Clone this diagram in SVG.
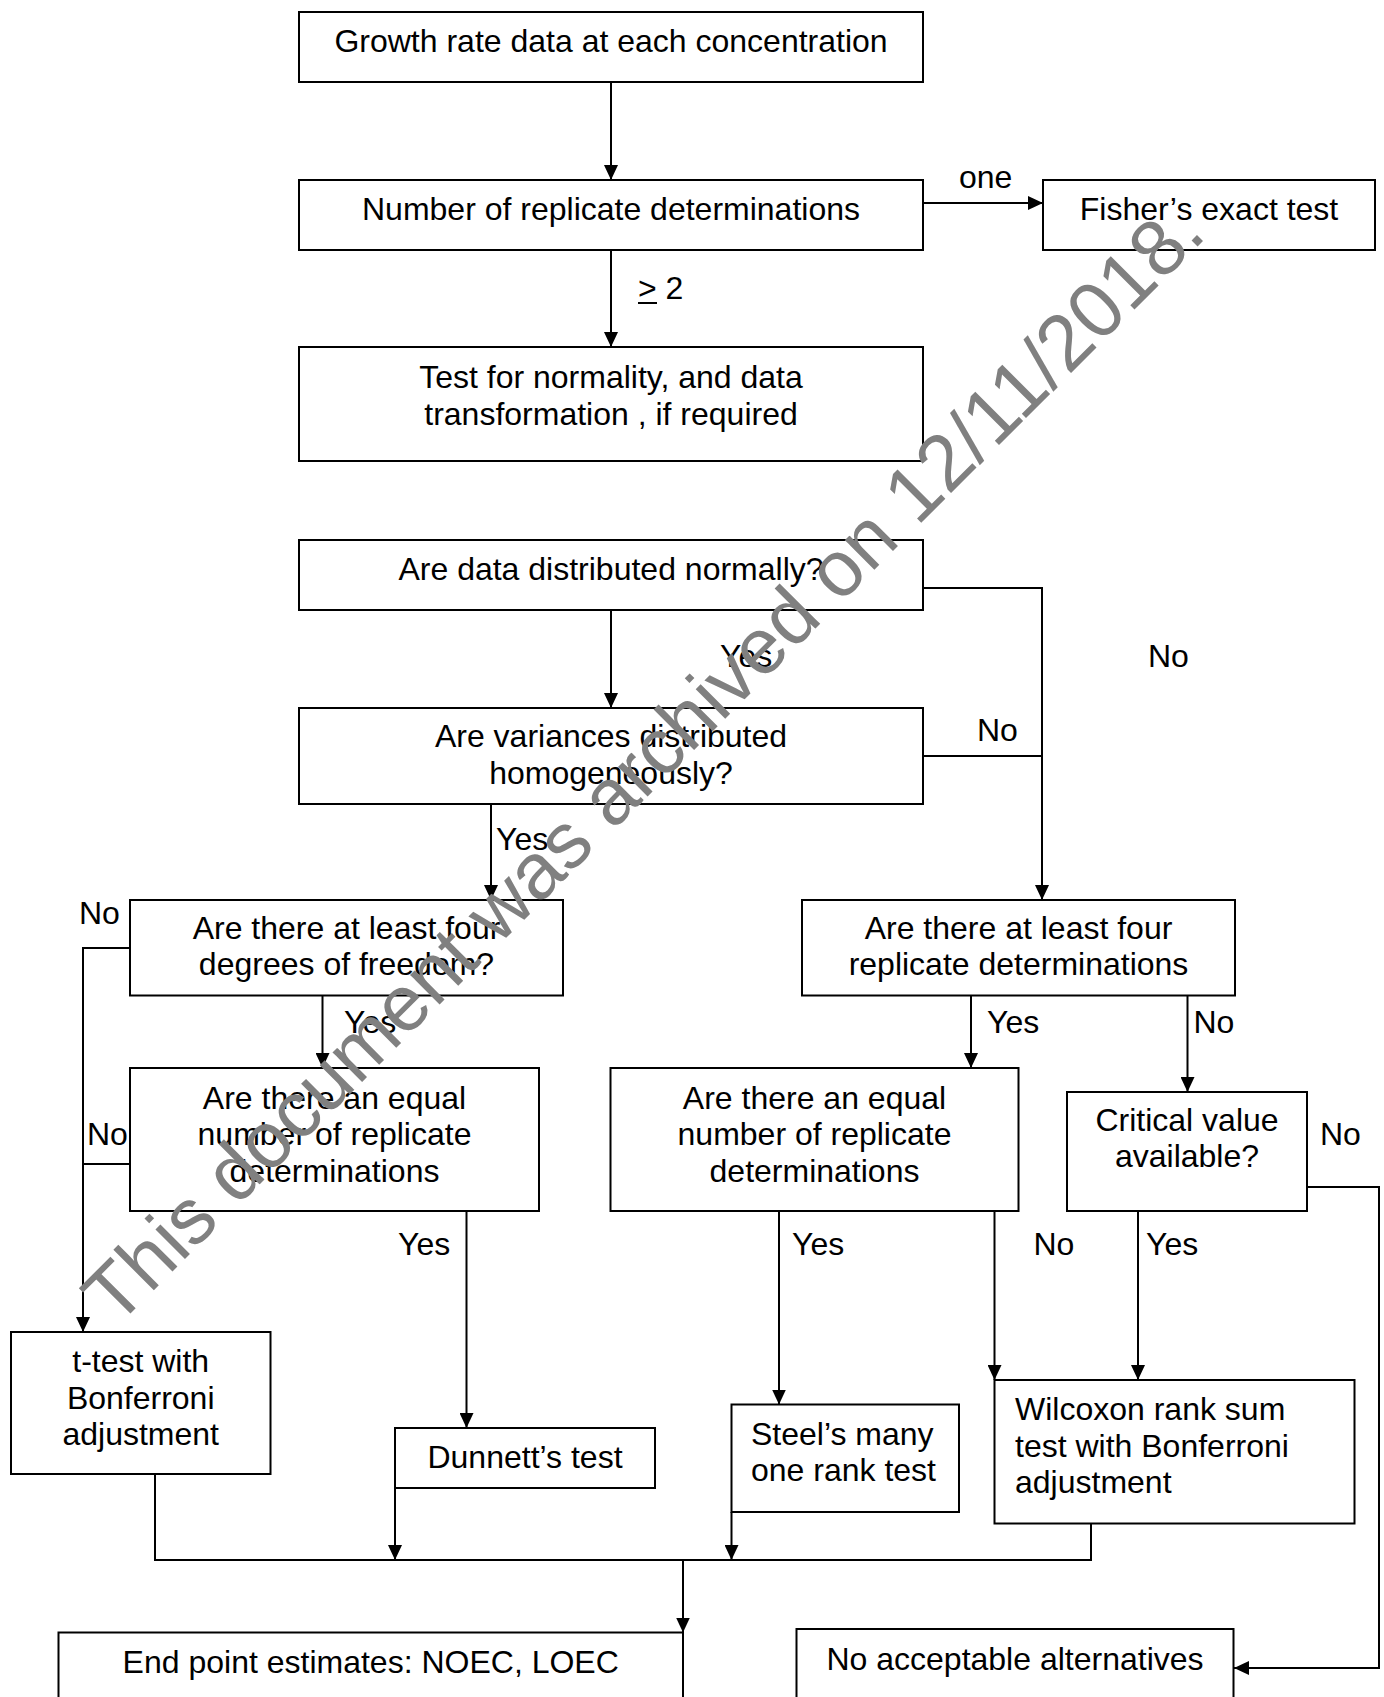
<svg xmlns="http://www.w3.org/2000/svg" width="1384" height="1697" viewBox="0 0 1384 1697">
<style>
.box{fill:#fff;stroke:#000;stroke-width:2}
.t{font-family:"Liberation Sans",Arial,sans-serif;font-size:32px;fill:#000}
.c{text-anchor:middle}
.ln{fill:none;stroke:#000;stroke-width:2}
.wm{font-family:"Liberation Sans",Arial,sans-serif;font-size:79px;fill:#808080;text-anchor:middle}
</style>
<defs>
<marker id="ah" markerUnits="userSpaceOnUse" markerWidth="16" markerHeight="14" refX="15" refY="7" orient="auto" viewBox="0 0 16 14">
<path d="M0,0 L15,7 L0,14 z" fill="#000"/>
</marker>
</defs>
<rect width="1384" height="1697" fill="#fff"/>
<g id="connectors">
<path class="ln" d="M611,82 V180" marker-end="url(#ah)"/>
<path class="ln" d="M611,250 V347" marker-end="url(#ah)"/>
<path class="ln" d="M923,203 H1043" marker-end="url(#ah)"/>
<path class="ln" d="M611,610 V708" marker-end="url(#ah)"/>
<path class="ln" d="M923,588 H1042 V900" marker-end="url(#ah)"/>
<path class="ln" d="M923,756 H1042"/>
<path class="ln" d="M491,804 V900" marker-end="url(#ah)"/>
<path class="ln" d="M130,948 H83 V1332" marker-end="url(#ah)"/>
<path class="ln" d="M130,1164 H83"/>
<path class="ln" d="M322.5,995.5 V1068" marker-end="url(#ah)"/>
<path class="ln" d="M466.5,1211 V1428" marker-end="url(#ah)"/>
<path class="ln" d="M971,995.5 V1068" marker-end="url(#ah)"/>
<path class="ln" d="M1187.5,995.5 V1092" marker-end="url(#ah)"/>
<path class="ln" d="M779,1211 V1404.5" marker-end="url(#ah)"/>
<path class="ln" d="M994.5,1211 V1380" marker-end="url(#ah)"/>
<path class="ln" d="M1138,1211 V1380" marker-end="url(#ah)"/>
<path class="ln" d="M1307,1187 H1379 V1668 H1234" marker-end="url(#ah)"/>
<path class="ln" d="M155,1474 V1560 H1091 V1523.5"/>
<path class="ln" d="M395,1488 V1560" marker-end="url(#ah)"/>
<path class="ln" d="M731.5,1512 V1560" marker-end="url(#ah)"/>
<path class="ln" d="M683,1560 V1632.5" marker-end="url(#ah)"/>
<text class="t" x="959" y="188">one</text>
<text class="t" x="638" y="299">&gt; 2</text>
<line x1="638" y1="303" x2="657" y2="303" stroke="#000" stroke-width="2"/>
<text class="t" x="720" y="667">Yes</text>
<text class="t" x="1148" y="667">No</text>
<text class="t" x="977" y="741">No</text>
<text class="t" x="496" y="850">Yes</text>
<text class="t" x="79" y="924">No</text>
<text class="t" x="344" y="1033">Yes</text>
<text class="t" x="87" y="1145">No</text>
<text class="t" x="398" y="1255">Yes</text>
<text class="t" x="987" y="1033">Yes</text>
<text class="t" x="1193.5" y="1033">No</text>
<text class="t" x="1320" y="1145">No</text>
<text class="t" x="792" y="1255">Yes</text>
<text class="t" x="1033.5" y="1255">No</text>
<text class="t" x="1146" y="1255">Yes</text>
</g>
<g id="n_growth"><rect class="box" x="299" y="12" width="624" height="70"/><text class="t c" x="611" y="52">Growth rate data at each concentration</text></g>
<g id="n_number"><rect class="box" x="299" y="180" width="624" height="70"/><text class="t c" x="611" y="220">Number of replicate determinations</text></g>
<g id="n_fisher"><rect class="box" x="1043" y="180" width="332" height="70"/><text class="t c" x="1209" y="220">Fisher’s exact test</text></g>
<g id="n_normtest"><rect class="box" x="299" y="347" width="624" height="114"/><text class="t c" x="611" y="388">Test for normality, and data</text><text class="t c" x="611" y="424.5">transformation , if required</text></g>
<g id="n_normal"><rect class="box" x="299" y="540" width="624" height="70"/><text class="t c" x="611" y="580">Are data distributed normally?</text></g>
<g id="n_variance"><rect class="box" x="299" y="708" width="624" height="96"/><text class="t c" x="611" y="747">Are variances distributed</text><text class="t c" x="611" y="784">homogeneously?</text></g>
<g id="n_freedom"><rect class="box" x="130" y="900" width="433" height="95.5"/><text class="t c" x="346.5" y="939">Are there at least four</text><text class="t c" x="346.5" y="975">degrees of freedom?</text></g>
<g id="n_four"><rect class="box" x="802" y="900" width="433" height="95.5"/><text class="t c" x="1018.5" y="939">Are there at least four</text><text class="t c" x="1018.5" y="975">replicate determinations</text></g>
<g id="n_equal_left"><rect class="box" x="130" y="1068" width="409" height="143"/><text class="t c" x="334.5" y="1108.5">Are there an equal</text><text class="t c" x="334.5" y="1145">number of replicate</text><text class="t c" x="334.5" y="1181.5">determinations</text></g>
<g id="n_equal_right"><rect class="box" x="610.5" y="1068" width="408" height="143"/><text class="t c" x="814.5" y="1108.5">Are there an equal</text><text class="t c" x="814.5" y="1145">number of replicate</text><text class="t c" x="814.5" y="1181.5">determinations</text></g>
<g id="n_critical"><rect class="box" x="1067" y="1092" width="240" height="119"/><text class="t c" x="1187" y="1130.5">Critical value</text><text class="t c" x="1187" y="1167">available?</text></g>
<g id="n_ttest"><rect class="box" x="11" y="1332" width="259.5" height="142"/><text class="t c" x="140.7" y="1372">t-test with</text><text class="t c" x="140.7" y="1408.5">Bonferroni</text><text class="t c" x="140.7" y="1445">adjustment</text></g>
<g id="n_dunnett"><rect class="box" x="395" y="1428" width="260" height="60"/><text class="t c" x="525" y="1468">Dunnett’s test</text></g>
<g id="n_steel"><rect class="box" x="731.5" y="1404.5" width="227.5" height="107.5"/><text class="t" x="751" y="1444.5">Steel’s many</text><text class="t" x="751" y="1481">one rank test</text></g>
<g id="n_wilcoxon"><rect class="box" x="994.5" y="1380" width="360" height="143.5"/><text class="t" x="1015" y="1420">Wilcoxon rank sum</text><text class="t" x="1015" y="1456.5">test with Bonferroni</text><text class="t" x="1015" y="1493">adjustment</text></g>
<g id="n_endpoint"><rect class="box" x="58.5" y="1632.5" width="624.5" height="100"/><text class="t c" x="370.7" y="1673">End point estimates: NOEC, LOEC</text></g>
<g id="n_noalt"><rect class="box" x="796.5" y="1629" width="437" height="100"/><text class="t c" x="1015" y="1670">No acceptable alternatives</text></g>
<g id="watermark"><text class="wm" transform="translate(662,782) rotate(-45)">This document was archived on 12/11/2018.</text></g>
</svg>
